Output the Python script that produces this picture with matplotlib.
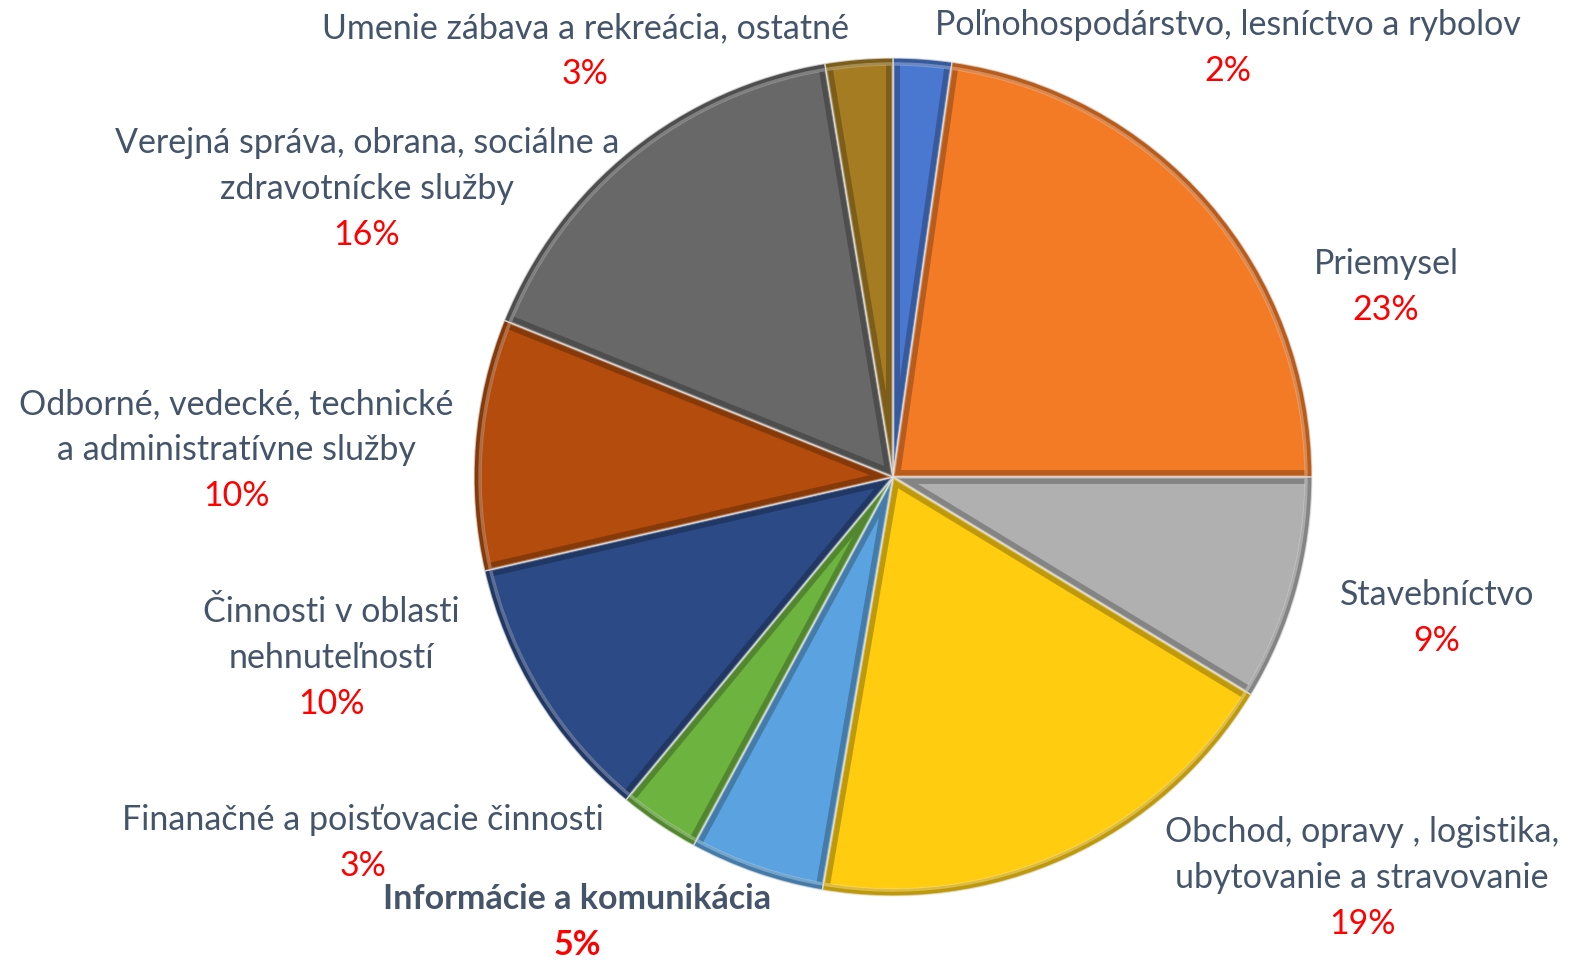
import matplotlib.pyplot as plt
import matplotlib.colors as mcolors
from matplotlib.patches import Wedge

# sectors, clockwise from 12 o'clock
sectors = ['Poľnohospodárstvo, lesníctvo a rybolov', 'Priemysel', 'Stavebníctvo',
           'Obchod, opravy , logistika,\nubytovanie a stravovanie', 'Informácie a komunikácia',
           'Finanačné a poisťovacie činnosti', 'Činnosti v oblasti\nnehnuteľností',
           'Odborné, vedecké, technické\na administratívne služby',
           'Verejná správa, obrana, sociálne a\nzdravotnícke služby',
           'Umenie zábava a rekreácia, ostatné']
shares = [2.25, 22.75, 8.7, 19.0, 5.2, 3.1, 10.4, 9.7, 16.3, 2.6]
colors = ['#4A78D0', '#F47B26', '#B0B0B0', '#FFCC10', '#5BA3E0', '#6DB33F',
          '#2C4A85', '#B34C0C', '#686868', '#A57C22']

# label anchors in pixels (x, y from top)
label_xy = [(1228, 25), (1386, 264), (1437, 595), (1362, 832), (577, 899),
            (363, 820), (331, 612), (236, 404), (367, 143), (585, 28)]

W, H = 1571, 962
fig = plt.figure(figsize=(W / 100, H / 100), dpi=100)
ax = fig.add_axes([0, 0, 1, 1])

cx, cy, r = 893, H - 478, 419
wedges, _ = ax.pie(shares, colors=colors, startangle=90, counterclock=False,
                   center=(cx, cy), radius=r, frame=True,
                   wedgeprops=dict(edgecolor='none'))
ax.set_xlim(0, W)
ax.set_ylim(0, H)
ax.set_aspect('equal')
ax.axis('off')

# fake bevel: dark band inside each slice + light seams
for w, c in zip(wedges, colors):
    dark = tuple(v * 0.55 for v in mcolors.to_rgb(c))
    light = tuple(min(1, v + (1 - v) * 0.55) for v in mcolors.to_rgb(c))
    band = Wedge((cx, cy), r, w.theta1, w.theta2, facecolor='none',
                 edgecolor=dark, lw=10, alpha=0.55)
    ax.add_patch(band)
    band.set_clip_path(w)
    hl = Wedge((cx, cy), r - 6, w.theta1, w.theta2, facecolor='none',
               edgecolor=light, lw=2.5, alpha=0.45)
    ax.add_patch(hl)
    hl.set_clip_path(w)
    ax.add_patch(Wedge((cx, cy), r, w.theta1, w.theta2, facecolor='none',
                       edgecolor='#E8E8E8', lw=1.0, alpha=0.7))

font = 'Lato'
for i, (name, share, (x, y)) in enumerate(zip(sectors, shares, label_xy)):
    bold = 'bold' if i == 4 else 'normal'
    nlines = name.count('\n') + 1
    for k, line in enumerate(name.split('\n')):
        ax.text(x, H - (y + 46 * k), line, ha='center', va='center',
                fontsize=24.5, color='#44546A', family=font, fontweight=bold)
    ax.text(x, H - (y + 46 * nlines), f'{share:.0f}%', ha='center', va='center',
            fontsize=24.5, color='#FF0000', family=font, fontweight=bold)

fig.savefig('out.png', dpi=100, facecolor='white')
